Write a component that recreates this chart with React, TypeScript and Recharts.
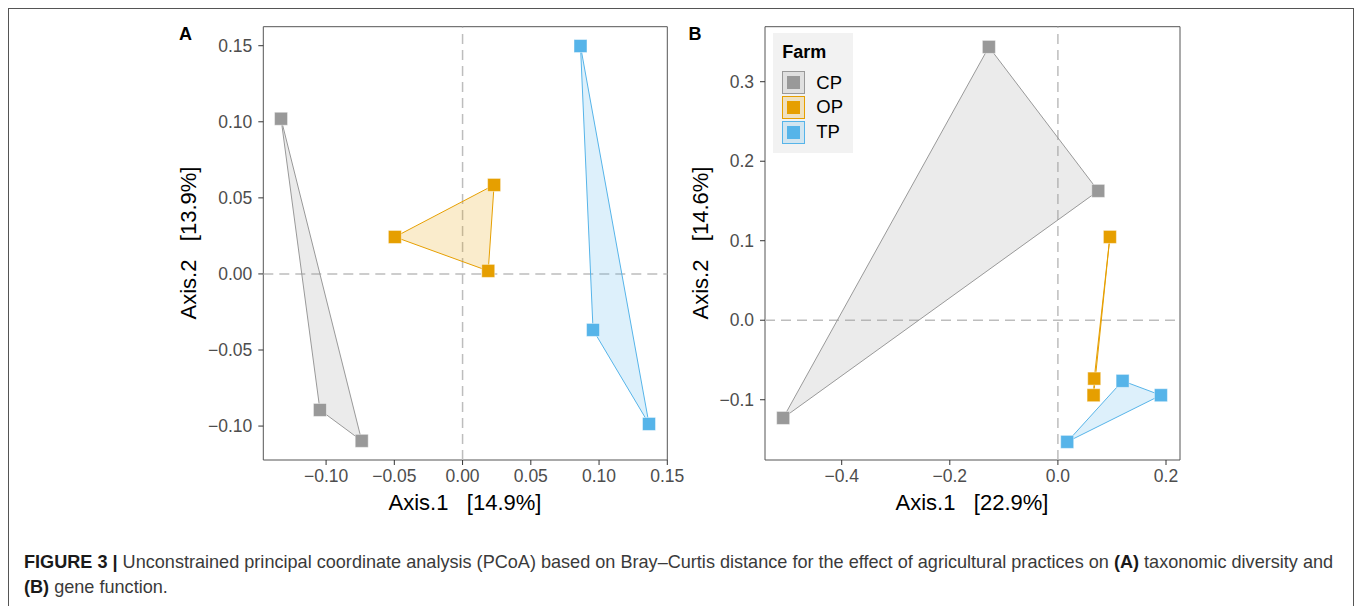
import {
  Legend,
  ReferenceArea,
  ReferenceLine,
  Scatter,
  ScatterChart,
  XAxis,
  YAxis,
} from 'recharts'

const farms = ['CP', 'OP', 'TP']
const farmColors = ['#999999', '#E69F00', '#56B4E9']

// (A) taxonomic diversity
const taxCP = [{ x: -0.133, y: 0.102 }, { x: -0.1045, y: -0.0894 }, { x: -0.0739, y: -0.1097 }]
const taxOP = [{ x: -0.0496, y: 0.0243 }, { x: 0.0231, y: 0.0585 }, { x: 0.0188, y: 0.002 }]
const taxTP = [{ x: 0.0864, y: 0.1498 }, { x: 0.0956, y: -0.0368 }, { x: 0.1366, y: -0.0986 }]

// (B) gene function
const genCP = [{ x: -0.1277, y: 0.3438 }, { x: 0.0746, y: 0.1627 }, { x: -0.5083, y: -0.1229 }]
const genOP = [{ x: 0.0962, y: 0.1048 }, { x: 0.0672, y: -0.0734 }, { x: 0.066, y: -0.0943 }]
const genTP = [{ x: 0.1197, y: -0.0763 }, { x: 0.1906, y: -0.0943 }, { x: 0.0172, y: -0.153 }]

const taxXTicks = [-0.1, -0.05, 0, 0.05, 0.1, 0.15]
const taxYTicks = [-0.1, -0.05, 0, 0.05, 0.1, 0.15]
const genXTicks = [-0.4, -0.2, 0, 0.2]
const genYTicks = [-0.1, 0, 0.1, 0.2, 0.3]

const FONT = '"Liberation Sans", Arial, Helvetica, sans-serif'

const fmt = (d: number) => (v: number) => {
  const s = Math.abs(v).toFixed(d)
  return v < -1e-9 ? '\u2212' + s : s
}

const hull = (color: string) => (p: any) => {
  const pts = (p.points || []).map((q: any) => `${q.x},${q.y}`).join(' ')
  return (
    <polygon
      points={pts}
      fill={color}
      fillOpacity={0.2}
      stroke={color}
      strokeWidth={1}
      strokeLinejoin="round"
    />
  )
}

const square = (color: string) => (p: any) => (
  <rect
    x={p.cx - 6.5}
    y={p.cy - 6.5}
    width={13}
    height={13}
    fill={color}
    stroke="#ffffff"
    strokeOpacity={0.45}
    strokeWidth={1}
  />
)

function FarmLegend() {
  return (
    <div
      style={{
        background: '#f2f2f2',
        width: 80,
        height: 120,
        boxSizing: 'border-box',
        padding: '9px 0 0 9px',
        fontFamily: FONT,
      }}
    >
      <div style={{ fontWeight: 'bold', fontSize: 18, color: '#000', lineHeight: '20px', marginBottom: 8 }}>
        Farm
      </div>
      {farms.map((f, i) => (
        <div key={f} style={{ display: 'flex', alignItems: 'center', height: 24.7 }}>
          <div
            style={{
              width: 23,
              height: 23,
              boxSizing: 'border-box',
              border: `1px solid ${farmColors[i]}`,
              background: farmColors[i] + '33',
              display: 'flex',
              alignItems: 'center',
              justifyContent: 'center',
            }}
          >
            <div style={{ width: 13, height: 13, background: farmColors[i] }} />
          </div>
          <span style={{ marginLeft: 11, fontSize: 18.5, color: '#000' }}>{f}</span>
        </div>
      ))}
    </div>
  )
}

function Panel({
  left,
  marginLeft,
  marginRight,
  groups,
  xDomain,
  yDomain,
  xTicks,
  yTicks,
  decimals,
  legend,
}: {
  left: number
  marginLeft: number
  marginRight: number
  groups: { x: number; y: number }[][]
  xDomain: [number, number]
  yDomain: [number, number]
  xTicks: number[]
  yTicks: number[]
  decimals: number
  legend?: boolean
}) {
  const tick = { fontSize: 17.5, fill: '#4d4d4d', fontFamily: FONT }
  return (
    <div style={{ position: 'absolute', left, top: 0 }}>
      <ScatterChart
        width={540}
        height={530}
        margin={{ top: 26.7, right: marginRight, bottom: 40, left: marginLeft }}
      >
        <XAxis
          type="number"
          dataKey="x"
          domain={xDomain}
          ticks={xTicks}
          allowDataOverflow
          axisLine={false}
          tickLine={{ stroke: '#333333' }}
          tickSize={5}
          tickMargin={5}
          height={30}
          tick={tick}
          tickFormatter={fmt(decimals)}
        />
        <YAxis
          type="number"
          dataKey="y"
          domain={yDomain}
          ticks={yTicks}
          allowDataOverflow
          axisLine={false}
          tickLine={{ stroke: '#333333' }}
          tickSize={5}
          tickMargin={6}
          width={60}
          tick={tick}
          tickFormatter={fmt(decimals)}
        />
        <ReferenceLine x={0} stroke="#bdbdbd" strokeWidth={1.5} strokeDasharray="10 6" />
        <ReferenceLine y={0} stroke="#bdbdbd" strokeWidth={1.5} strokeDasharray="10 6" />
        {groups.map((g, i) => (
          <Scatter
            key={farms[i]}
            name={farms[i]}
            data={g}
            fill={farmColors[i]}
            line={hull(farmColors[i])}
            lineType="joint"
            shape={square(farmColors[i])}
            isAnimationActive={false}
          />
        ))}
        <ReferenceArea
          x1={xDomain[0]}
          x2={xDomain[1]}
          y1={yDomain[0]}
          y2={yDomain[1]}
          fill="none"
          fillOpacity={0}
          stroke="#555555"
          strokeWidth={1}
        />
        {legend && (
          <Legend
            layout="vertical"
            align="center"
            verticalAlign="middle"
            wrapperStyle={{ left: 93.3, top: 33.3, width: 80, height: 120 }}
            content={() => <FarmLegend />}
          />
        )}
      </ScatterChart>
    </div>
  )
}

const abs = (s: React.CSSProperties): React.CSSProperties => ({ position: 'absolute', ...s })

export default function App() {
  return (
    <div
      style={{
        position: 'fixed',
        left: 0,
        top: 0,
        width: 1357,
        height: 606,
        overflow: 'hidden',
        background: '#ffffff',
        fontFamily: FONT,
      }}
    >
      <div
        style={abs({
          left: 8,
          top: 8,
          width: 1346,
          height: 620,
          border: '1px solid #555555',
          boxSizing: 'border-box',
        })}
      />
      <Panel
        left={160}
        marginLeft={43.3}
        marginRight={32.7}
        groups={[taxCP, taxOP, taxTP]}
        xDomain={[-0.146, 0.15]}
        yDomain={[-0.1223, 0.1625]}
        xTicks={taxXTicks}
        yTicks={taxYTicks}
        decimals={2}
      />
      <Panel
        left={680}
        marginLeft={25}
        marginRight={40}
        groups={[genCP, genOP, genTP]}
        xDomain={[-0.5419, 0.2259]}
        yDomain={[-0.1758, 0.3692]}
        xTicks={genXTicks}
        yTicks={genYTicks}
        decimals={1}
        legend
      />
      {/* panel letters */}
      <div style={abs({ left: 179, top: 24, fontSize: 18, fontWeight: 'bold', color: '#000' })}>A</div>
      <div style={abs({ left: 688.5, top: 24, fontSize: 18, fontWeight: 'bold', color: '#000' })}>B</div>
      {/* axis titles */}
      <div style={abs({ left: 265, width: 400, top: 490, textAlign: 'center', fontSize: 22, whiteSpace: 'pre', color: '#000' })}>
        {'Axis.1   [14.9%]'}
      </div>
      <div style={abs({ left: 772, width: 400, top: 490, textAlign: 'center', fontSize: 22, whiteSpace: 'pre', color: '#000' })}>
        {'Axis.1   [22.9%]'}
      </div>
      <div
        style={abs({
          left: 188.5 - 200,
          top: 243 - 13,
          width: 400,
          height: 26,
          lineHeight: '26px',
          textAlign: 'center',
          fontSize: 22,
          whiteSpace: 'pre',
          color: '#000',
          transform: 'rotate(-90deg)',
        })}
      >
        {'Axis.2   [13.9%]'}
      </div>
      <div
        style={abs({
          left: 700.7 - 200,
          top: 243 - 13,
          width: 400,
          height: 26,
          lineHeight: '26px',
          textAlign: 'center',
          fontSize: 22,
          whiteSpace: 'pre',
          color: '#000',
          transform: 'rotate(-90deg)',
        })}
      >
        {'Axis.2   [14.6%]'}
      </div>
      {/* caption */}
      <div
        style={abs({
          left: 24,
          top: 549.5,
          fontSize: 18.1,
          lineHeight: '25px',
          color: '#3a3a3a',
          whiteSpace: 'nowrap',
        })}
      >
        <b style={{ color: '#1a1a1a' }}>FIGURE 3 |</b> Unconstrained principal coordinate analysis (PCoA) based on
        Bray–Curtis distance for the effect of agricultural practices on <b style={{ color: '#1a1a1a' }}>(A)</b>{' '}
        taxonomic diversity and
        <br />
        <b style={{ color: '#1a1a1a' }}>(B)</b> gene function.
      </div>
    </div>
  )
}
